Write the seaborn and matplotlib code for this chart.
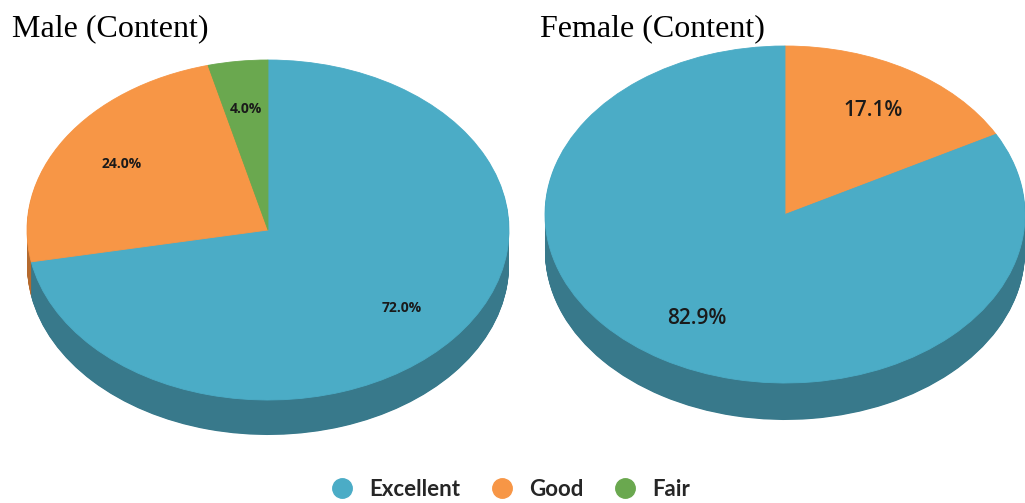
import matplotlib
matplotlib.use("Agg")
import matplotlib.pyplot as plt
from matplotlib.lines import Line2D
import seaborn as sns

# --- data ---
categories = ["Excellent", "Good", "Fair"]
male_values = [72.0, 24.0, 4.0]
female_values = [82.9, 17.1, 0.0]
titles = ["Male (Content)", "Female (Content)"]

colors = {"Excellent": "#4BACC6", "Good": "#F79646", "Fair": "#6AA84F"}
side_colors = {"Excellent": "#38798B", "Good": "#B56A2E", "Fair": "#4C7D38"}

sns.set_theme(style="white")
plt.rcParams["font.family"] = ["Open Sans", "DejaVu Sans"]

W, H = 1025, 503
fig = plt.figure(figsize=(W / 100, H / 100), dpi=100)


def px_axes(x0, y_top, x1, y_bot):
    # axes from pixel box (y measured from top)
    return fig.add_axes([x0 / W, 1 - y_bot / H, (x1 - x0) / W, (y_bot - y_top) / H])


def pie3d(ax, labels, values, start, clockwise, depth, pct_size, pct_weight):
    keep = [(l, v) for l, v in zip(labels, values) if v > 0]
    labs = [k[0] for k in keep]
    vals = [k[1] for k in keep]
    # stacked darker copies give the pie its thickness
    n = 60
    for k in range(n, 0, -1):
        ax.pie(vals, colors=[side_colors[l] for l in labs], startangle=start,
               counterclock=not clockwise, center=(0, -depth * k / n),
               wedgeprops=dict(linewidth=0, antialiased=True))
    ax.pie(vals, colors=[colors[l] for l in labs], startangle=start,
           counterclock=not clockwise, autopct="%.1f%%", pctdistance=0.72,
           wedgeprops=dict(linewidth=0.6, edgecolor=None),
           textprops=dict(fontsize=pct_size, fontweight=pct_weight, color="#1a1a1a"))
    for w, l in zip(ax.patches[-len(vals):], labs):
        w.set_edgecolor(colors[l])
    ax.set_aspect("auto")
    ax.set_xlim(-1, 1)
    ax.set_ylim(-1 - depth, 1)
    ax.axis("off")


# male: top face x 27..509, y 60..400, depth to 435
ax1 = px_axes(27, 60, 509, 435)
pie3d(ax1, categories, male_values, 90, True, 35 / 170, 10, "bold")

# female: top face x 545..1025, y 46..383, depth to 420
ax2 = px_axes(545, 46, 1025, 420)
order_f = ["Good", "Excellent", "Fair"]
vals_f = [female_values[categories.index(c)] for c in order_f]
pie3d(ax2, order_f, vals_f, 90, True, 37 / 168.5, 15, "semibold")

fig.text(12 / W, 1 - 36 / H, titles[0], fontsize=23, family=["Liberation Serif"], color="black")
fig.text(540 / W, 1 - 36 / H, titles[1], fontsize=23, family=["Liberation Serif"], color="black")

handles = [Line2D([], [], marker="o", linestyle="", markersize=14,
                  markerfacecolor=colors[c], markeredgecolor=colors[c]) for c in categories]
leg = fig.legend(handles, categories, loc="center", bbox_to_anchor=(505 / W, 1 - 489 / H),
                 ncol=3, frameon=False, handletextpad=0.2, columnspacing=0.9,
                 prop=dict(family="Lato", weight="bold", size=16))

fig.savefig("out.png", dpi=100)
